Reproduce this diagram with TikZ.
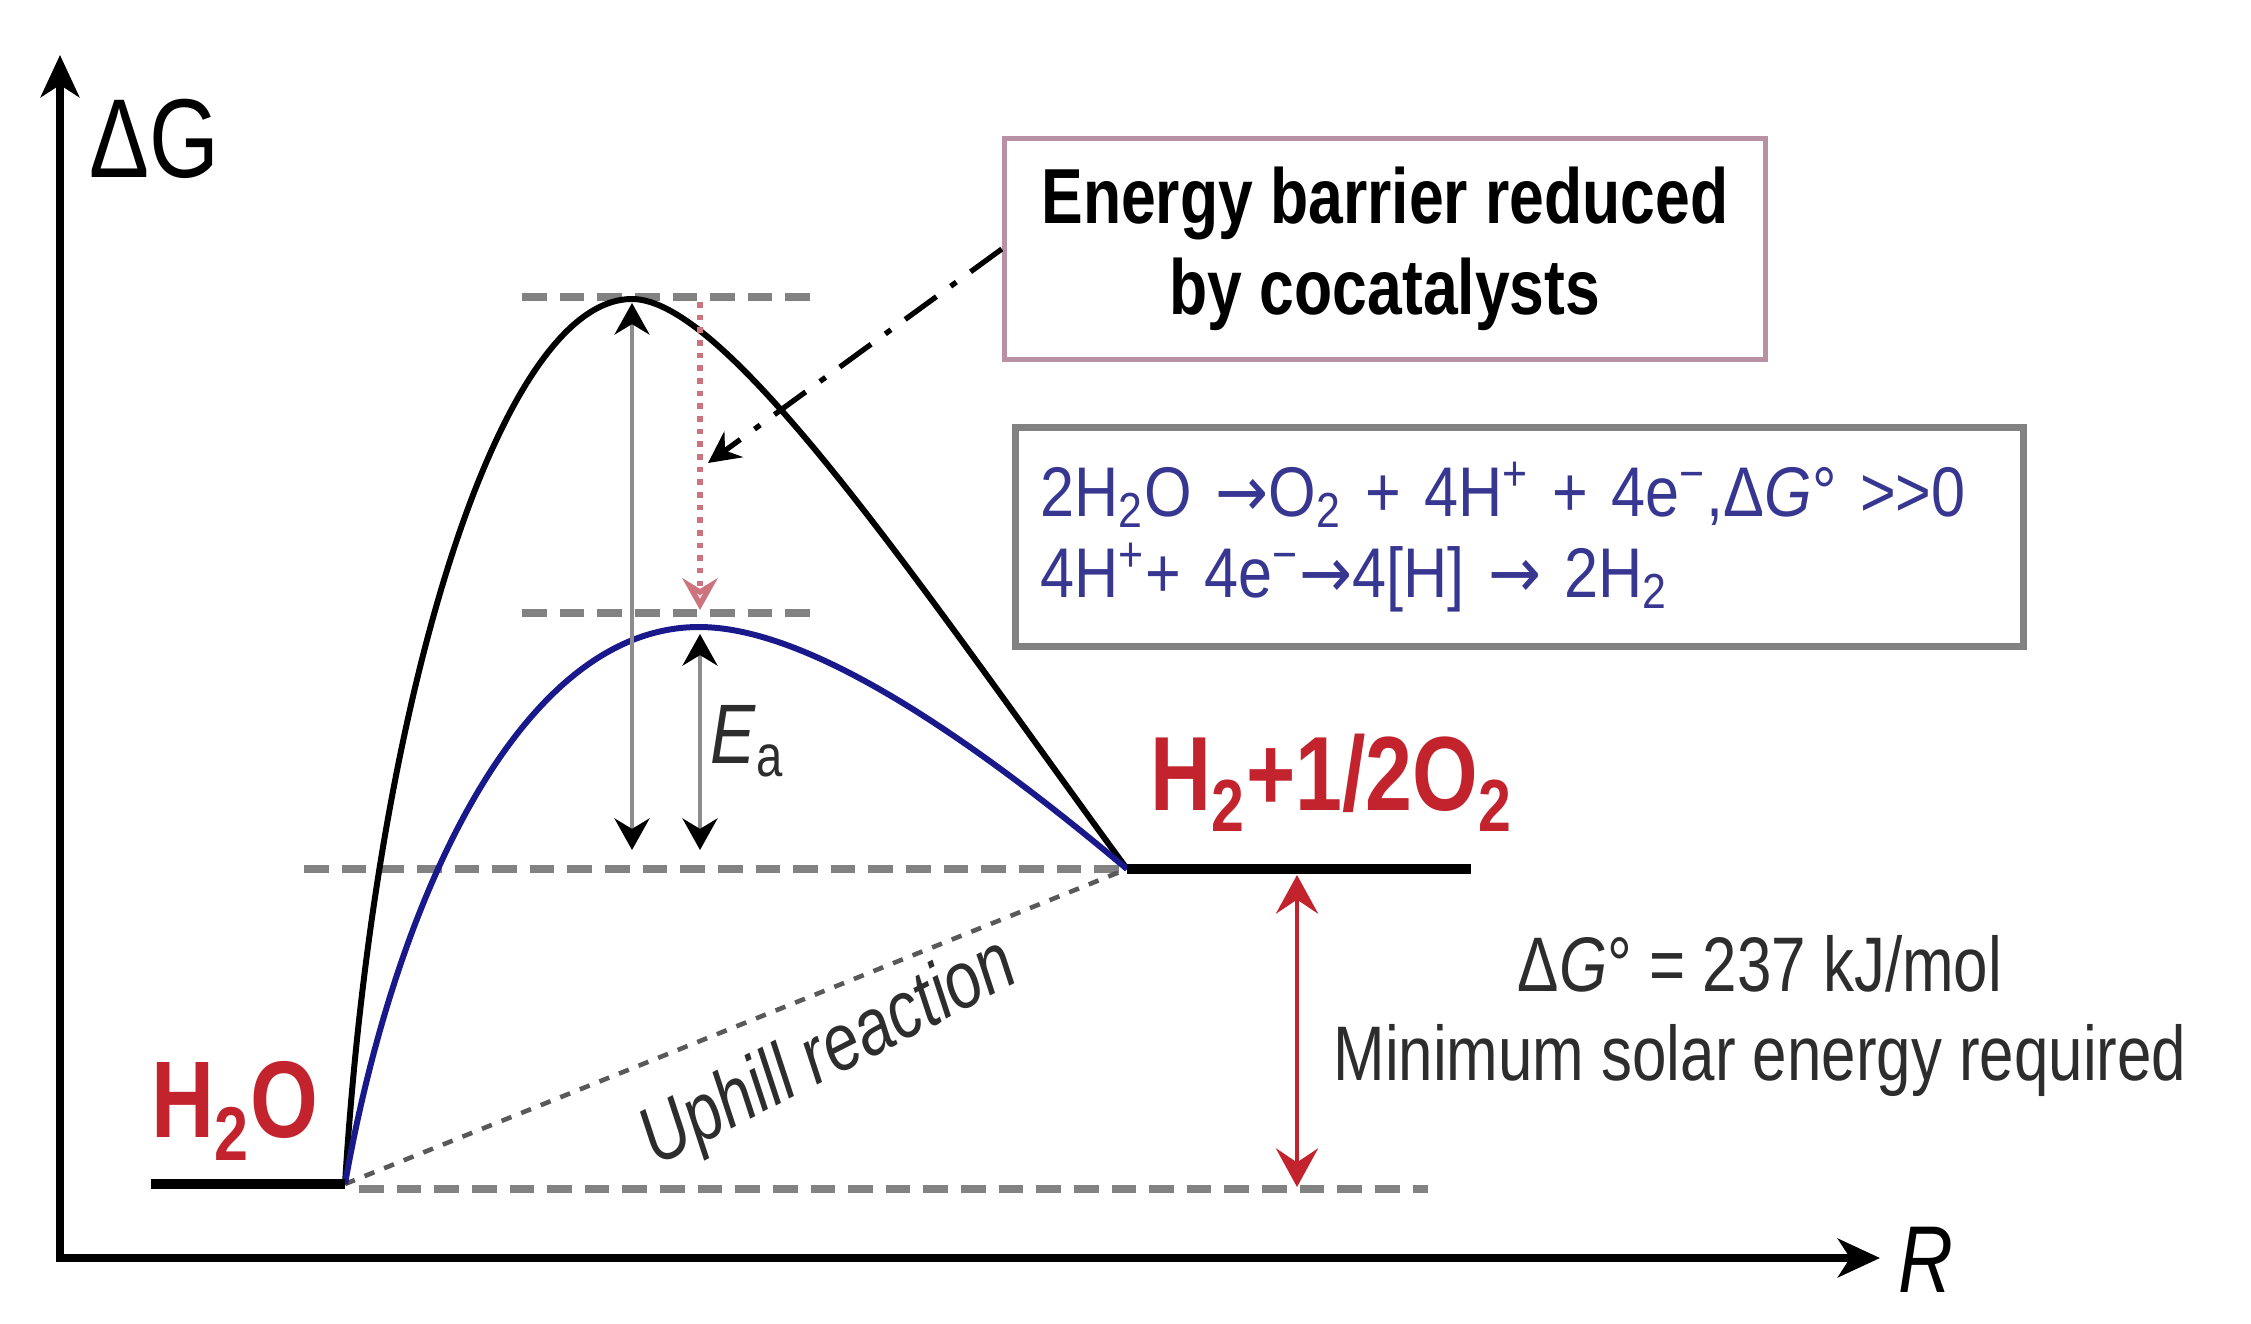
\documentclass[tikz,border=0pt]{standalone}
\usepackage{fontspec}
\setmainfont{Liberation Sans}[FakeStretch=0.8]
\newfontfamily\eqfont{Liberation Sans}[FakeStretch=0.87]
\newfontfamily\arrfont{DejaVu Sans}[FakeStretch=0.9]
\usetikzlibrary{arrows.meta}
\definecolor{dred}{RGB}{195,35,45}
\definecolor{eqblue}{RGB}{55,55,145}
\definecolor{mauve}{RGB}{185,145,165}
\definecolor{dgray}{RGB}{130,130,130}
\definecolor{txtgray}{RGB}{45,45,45}
\definecolor{curveblue}{RGB}{25,25,140}
\definecolor{pinkred}{RGB}{205,115,125}
\newcommand{\fsz}[2]{\fontsize{#1}{#2}\selectfont}
\newcommand{\ra}{{\arrfont →}}
\begin{document}
\begin{tikzpicture}[x=0.01cm,y=-0.01cm,
  axis/.style={line width=2pt,line join=miter},
  level/.style={line width=2.8pt},
  curve/.style={line width=1.7pt},
  gdash/.style={dgray,line width=2pt,dash pattern=on 7pt off 3.7pt},
  udash/.style={black!65,line width=1.3pt,dash pattern=on 3pt off 3pt},
  garrow/.style={draw=black!45,line width=1.1pt,
     {Stealth[length=9pt,width=10pt,inset=3pt,black]}-{Stealth[length=9pt,width=10pt,inset=3pt,black]}},
  rarrow/.style={draw=dred,line width=1.1pt,
     {Stealth[length=11pt,width=12pt,inset=4pt]}-{Stealth[length=11pt,width=12pt,inset=4pt]}},
  lbl/.style={inner sep=0pt},
]
\fill[white] (0,0) rectangle (2251,1324);
\useasboundingbox (0,0) rectangle (2251,1324);

% axes
\coordinate (O) at (60,1258);
\coordinate (ytip) at (60,55);
\coordinate (xtip) at (1880,1258);
\draw[axis,{Stealth[length=12pt,width=11pt,inset=3.5pt]}-{Stealth[length=12pt,width=11pt,inset=3.5pt]}] (ytip) -- (O) -- (xtip);
\node[lbl,anchor=base west,font=\fsz{31.9pt}{38pt}] (dG) at (89,177) {ΔG};
\node[lbl,anchor=base west,font=\fsz{27pt}{32pt}] (R) at (1898,1292) {\textit{R}};

% levels
\coordinate (r1) at (151,1184);
\coordinate (r2) at (345,1184);
\coordinate (p1) at (1127,869);
\coordinate (p2) at (1471,869);

% dashed guide lines
\coordinate (t1) at (522,297); \coordinate (t2) at (812,297);
\coordinate (m1) at (522,613); \coordinate (m2) at (812,613);
\coordinate (d1) at (304,869);
\coordinate (b1) at (359,1189); \coordinate (b2) at (1428,1189);
\draw[gdash] (t1) -- (t2);
\draw[gdash] (m1) -- (m2);
\draw[gdash] (d1) -- (p1);
\draw[gdash] (b1) -- (b2);
\draw[udash] (r2) -- (p1);

% curves
\coordinate (pk1) at (632,299);
\coordinate (pk2) at (699,627);
\draw[curve] (r2) .. controls (375,700) and (500,299) .. (pk1) .. controls (730,299) and (930,600) .. (p1);
\draw[curve,curveblue] (r2) .. controls (395,900) and (520,627) .. (pk2) .. controls (800,627) and (950,720) .. (p1);

\draw[level] (r1) -- (r2);
\draw[level] (p1) -- (p2);

% vertical arrows
\coordinate (a1t) at (632,303); \coordinate (a1b) at (632,850);
\coordinate (a2t) at (700,634); \coordinate (a2b) at (700,850);
\draw[garrow] (a1t) -- (a1b);
\draw[garrow] (a2t) -- (a2b);
\coordinate (rd1) at (700,302); \coordinate (rd2) at (700,610);
\draw[pinkred,line width=1.6pt,dotted,-{Stealth[open,length=9pt,width=10pt,inset=3pt,fill=pinkred!25]}] (rd1) -- (rd2);
\node[lbl,anchor=base west,txtgray,font=\fsz{24pt}{28pt}] (Ea) at (710,763) {\textit{E}\textsubscript{a}};

% red double arrow
\coordinate (ra1) at (1297,875); \coordinate (ra2) at (1297,1187);
\draw[rarrow] (ra1) -- (ra2);

% labels
\node[lbl,anchor=base west,dred,font=\fsz{31pt}{36pt}\bfseries] (h2o) at (151,1137) {H\textsubscript{2}O};
\node[lbl,anchor=base west,dred,font=\fsz{30pt}{36pt}\bfseries] (prod) at (1150,810) {H\textsubscript{2}+1/2O\textsubscript{2}};
\node[lbl,txtgray,rotate=27,font=\fsz{23pt}{28pt}] (uphill) at (830,1055) {\textit{Uphill reaction}};

% box 1
\node[draw=mauve,line width=1.4pt,minimum width=7.61cm,minimum height=2.2cm,align=center,inner sep=0pt,
      font=\fsz{22.2pt}{26pt}\bfseries] (box1) at (1385,249)
  {Energy barrier reduced\\ by cocatalysts};
\coordinate (ddtip) at (708,463);
\draw[line width=1.5pt,dash pattern=on 11pt off 5pt on 2pt off 5pt,-{Stealth[length=9pt,width=9pt,inset=3pt]}] (box1.west) -- (ddtip);

% box 2
\node[draw=dgray,line width=2pt,anchor=west,text width=9.57cm,inner xsep=0.25cm,minimum height=2.18cm,align=left,text=eqblue,
      font=\eqfont\fsz{20pt}{23pt}] (box2) at (1012,537)
  {2H\textsubscript{2}O \ra O\textsubscript{2} + 4H\textsuperscript{+} + 4e\textsuperscript{−},Δ\textit{G}° >{}>{}0\\
   4H\textsuperscript{+}+ 4e\textsuperscript{−}\ra 4[H] \ra{} 2H\textsubscript{2}};

% right-hand text
\node[lbl,anchor=base,txtgray,font=\fsz{22pt}{26pt}] (dg0) at (1760,991) {Δ\textit{G}° = 237 kJ/mol};
\node[lbl,anchor=base,txtgray,font=\fsz{22pt}{26pt}] (minsol) at (1760,1080) {Minimum solar energy required};
\end{tikzpicture}
\end{document}
